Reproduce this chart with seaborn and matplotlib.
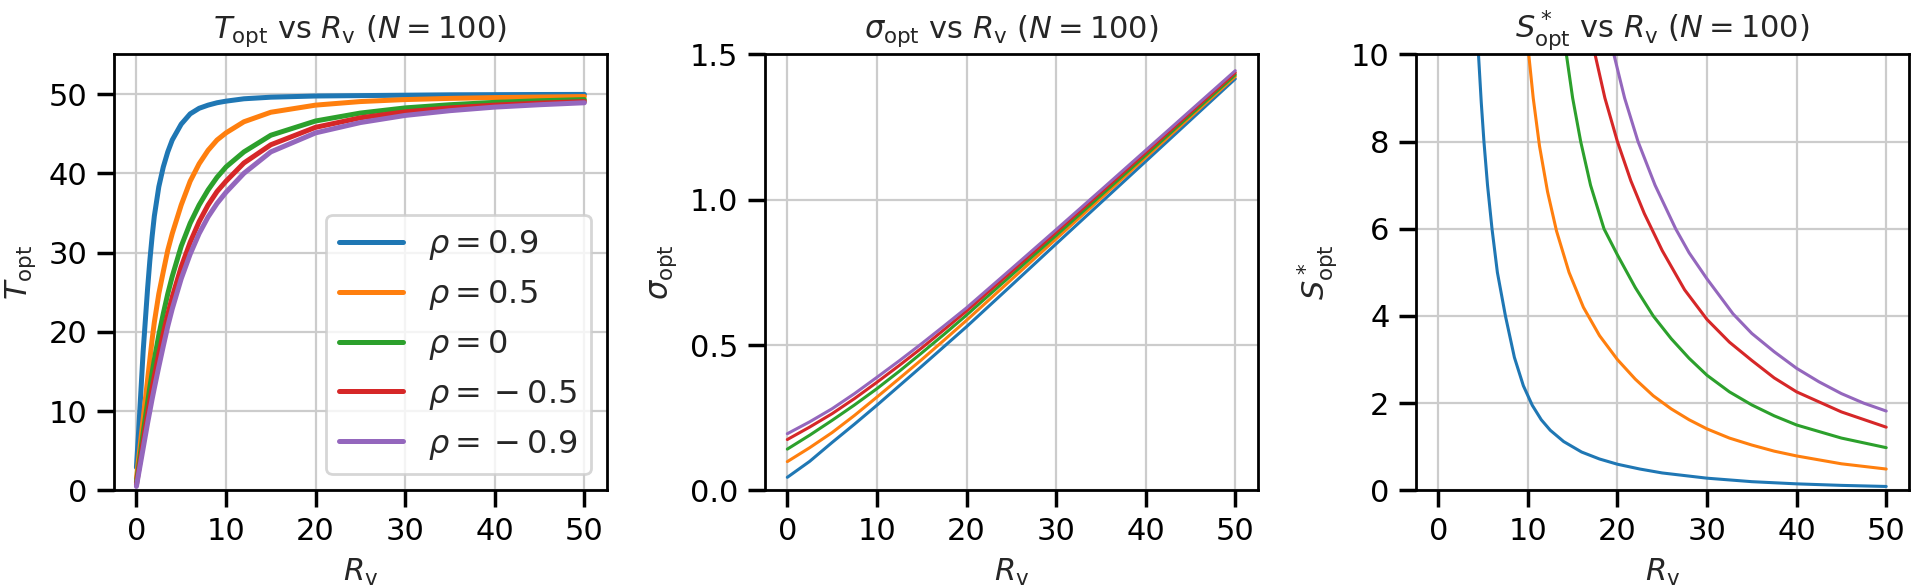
import numpy as np
import pandas as pd
import matplotlib
matplotlib.use('Agg')
import matplotlib.pyplot as plt
import seaborn as sns

# values
rho_labels = [r'$\rho=0.9$', r'$\rho=0.5$', r'$\rho=0$', r'$\rho={}-0.5$', r'$\rho={}-0.9$']

# T_opt vs R_v
t_x = [0, 0.25, 0.5, 0.75, 1, 1.25, 1.5, 1.75, 2, 2.5, 3, 3.5, 4, 5, 6, 7, 8, 9, 10,
       12, 15, 20, 25, 30, 35, 40, 45, 50]
t_rho_09 = [2.9, 7.5, 12.5, 17.5, 21.5, 25.5, 29.0, 32.0, 34.6, 38.3, 40.8, 42.7, 44.2, 46.2,
            47.5, 48.2, 48.6, 48.9, 49.1, 49.4, 49.6, 49.75, 49.8, 49.85, 49.9, 49.92, 49.94, 49.95]
t_rho_05 = [1.5, 4.0, 6.5, 9.0, 11.5, 14.0, 16.5, 19.0, 21.2, 24.8, 27.6, 30.3, 32.4, 36.0,
            39.0, 41.2, 42.9, 44.2, 45.1, 46.5, 47.7, 48.6, 49.05, 49.3, 49.45, 49.55, 49.62, 49.68]
t_rho_00 = [1.0, 3.0, 5.1, 7.2, 9.2, 11.1, 13.0, 14.8, 16.5, 19.6, 22.3, 24.8, 27.0, 30.8,
            33.7, 36.0, 37.9, 39.5, 40.8, 42.7, 44.8, 46.6, 47.6, 48.25, 48.65, 48.95, 49.15, 49.3]
t_rho_m05 = [0.7, 2.5, 4.3, 6.1, 7.9, 9.6, 11.3, 12.9, 14.4, 17.2, 19.8, 22.2, 24.4, 28.2,
             31.3, 33.9, 36.0, 37.7, 39.0, 41.3, 43.6, 45.8, 47.0, 47.75, 48.25, 48.6, 48.85, 49.05]
t_rho_m09 = [0.5, 2.1, 3.7, 5.3, 6.9, 8.5, 10.0, 11.5, 12.9, 15.6, 18.2, 20.7, 22.9, 26.7,
             29.8, 32.4, 34.5, 36.2, 37.6, 40.0, 42.7, 45.1, 46.4, 47.3, 47.9, 48.35, 48.65, 48.9]

# sigma_opt vs R_v
s_x = [0, 2.5, 5, 7.5, 10, 12.5, 15, 17.5, 20, 25, 30, 35, 40, 45, 50]
sig_rho_09 = [0.045, 0.100, 0.165, 0.228, 0.293, 0.360, 0.427, 0.495, 0.563, 0.705, 0.848, 0.990, 1.132, 1.274, 1.416]
sig_rho_05 = [0.099, 0.147, 0.199, 0.258, 0.321, 0.385, 0.450, 0.517, 0.585, 0.725, 0.865, 1.005, 1.145, 1.285, 1.424]
sig_rho_00 = [0.142, 0.190, 0.241, 0.294, 0.350, 0.410, 0.473, 0.537, 0.603, 0.740, 0.877, 1.015, 1.153, 1.292, 1.430]
sig_rho_m05 = [0.175, 0.218, 0.264, 0.316, 0.372, 0.430, 0.490, 0.553, 0.617, 0.752, 0.888, 1.025, 1.162, 1.300, 1.437]
sig_rho_m09 = [0.195, 0.236, 0.281, 0.333, 0.389, 0.446, 0.505, 0.566, 0.628, 0.762, 0.897, 1.033, 1.170, 1.307, 1.444]

# S*_opt vs R_v (each curve starts where it leaves the top of the axis)
ss_x_09 = [4.49, 4.8, 5.1, 5.5, 6.0, 6.6, 7.5, 8.5, 9.5, 10.5, 11.5, 12.5, 14, 16, 18, 20,
           22.5, 25, 30, 35, 40, 45, 50]
ss_y_09 = [10, 8.9, 8.0, 7.0, 6.0, 5.0, 4.0, 3.05, 2.4, 1.95, 1.62, 1.38, 1.12, 0.88, 0.72, 0.6,
           0.49, 0.4, 0.28, 0.2, 0.15, 0.115, 0.09]
ss_x_05 = [10.1, 10.6, 11.3, 12.2, 13.2, 14.6, 16.2, 18, 20, 22, 24, 26, 28, 30, 32.5, 35,
           37.5, 40, 45, 50]
ss_y_05 = [10, 9.0, 7.9, 6.85, 5.95, 5.0, 4.2, 3.55, 3.0, 2.55, 2.17, 1.87, 1.62, 1.41, 1.2,
           1.04, 0.9, 0.79, 0.61, 0.49]
ss_x_00 = [14.3, 15.0, 15.9, 17.0, 18.5, 20, 22, 24, 26, 28, 30, 32.5, 35, 37.5, 40, 45, 50]
ss_y_00 = [10, 9.0, 8.0, 7.0, 6.0, 5.4, 4.65, 4.0, 3.48, 3.03, 2.64, 2.26, 1.96, 1.71, 1.5,
           1.2, 0.98]
ss_x_m05 = [17.5, 18.6, 20, 21.5, 23, 25, 27.5, 30, 32.5, 35, 37.5, 40, 45, 50]
ss_y_m05 = [10, 9.0, 8.0, 7.1, 6.35, 5.5, 4.6, 3.92, 3.4, 2.98, 2.58, 2.26, 1.8, 1.45]
ss_x_m09 = [19.6, 20.8, 22.3, 24.2, 26.5, 28, 30, 32.9, 35, 37.5, 40, 42.5, 45, 47.5, 50]
ss_y_m09 = [10, 9.0, 8.0, 7.0, 6.0, 5.45, 4.85, 4.05, 3.6, 3.18, 2.8, 2.49, 2.22, 2.0, 1.82]


def long_form(xs, ys):
    rows = []
    for lab, x, y in zip(rho_labels, xs, ys):
        for xi, yi in zip(x, y):
            rows.append({'R_v': xi, 'val': yi, 'rho': lab})
    return pd.DataFrame(rows)


df_t = long_form([t_x] * 5, [t_rho_09, t_rho_05, t_rho_00, t_rho_m05, t_rho_m09])
df_s = long_form([s_x] * 5, [sig_rho_09, sig_rho_05, sig_rho_00, sig_rho_m05, sig_rho_m09])
df_ss = long_form([ss_x_09, ss_x_05, ss_x_00, ss_x_m05, ss_x_m09],
                  [ss_y_09, ss_y_05, ss_y_00, ss_y_m05, ss_y_m09])

sns.set_theme(style='ticks', rc={
    'axes.grid': True,
    'grid.color': '#cccccc',
    'grid.linewidth': 0.8,
    'axes.edgecolor': 'black',
    'axes.linewidth': 1.0,
    'xtick.color': 'black',
    'ytick.color': 'black',
    'font.size': 11,
    'axes.titlesize': 11,
    'axes.labelsize': 11,
    'xtick.labelsize': 11,
    'ytick.labelsize': 11,
})
plt.rcParams['font.family'] = ['DejaVu Sans']
palette = sns.color_palette('tab10', 5)

fig, axes = plt.subplots(1, 3, figsize=(9.565, 2.94), dpi=200)
fig.subplots_adjust(left=0.0596, right=0.9977, bottom=0.166, top=0.9075, wspace=0.321)

ax = axes[0]
sns.lineplot(data=df_t, x='R_v', y='val', hue='rho', palette=palette, linewidth=1.8,
             estimator=None, sort=True, ax=ax)
ax.set_ylim(0, 55)
ax.set_yticks([0, 10, 20, 30, 40, 50])
ax.set_title(r'$T_{\mathrm{opt}}$ vs $R_{\mathrm{v}}$ ($N=100$)')
ax.set_ylabel(r'$T_{\mathrm{opt}}$')
ax.legend(title=None, loc='lower right', fontsize=11.5)

ax = axes[1]
sns.lineplot(data=df_s, x='R_v', y='val', hue='rho', palette=palette, linewidth=1.1,
             estimator=None, sort=True, ax=ax, legend=False)
ax.set_ylim(0, 1.5)
ax.set_yticks([0, 0.5, 1.0, 1.5])
ax.set_title(r'$\sigma_{\mathrm{opt}}$ vs $R_{\mathrm{v}}$ ($N=100$)')
ax.set_ylabel(r'$\sigma_{\mathrm{opt}}$')

ax = axes[2]
sns.lineplot(data=df_ss, x='R_v', y='val', hue='rho', palette=palette, linewidth=1.1,
             estimator=None, sort=True, ax=ax, legend=False)
ax.set_ylim(0, 10)
ax.set_yticks([0, 2, 4, 6, 8, 10])
ax.set_title(r'$S^*_{\mathrm{opt}}$ vs $R_{\mathrm{v}}$ ($N=100$)')
ax.set_ylabel(r'$S^*_{\mathrm{opt}}$')

for ax in axes:
    ax.set_xlim(-2.5, 52.5)
    ax.set_xticks([0, 10, 20, 30, 40, 50])
    ax.set_xlabel(r'$R_{\mathrm{v}}$')

fig.savefig('out.png', dpi=200)
